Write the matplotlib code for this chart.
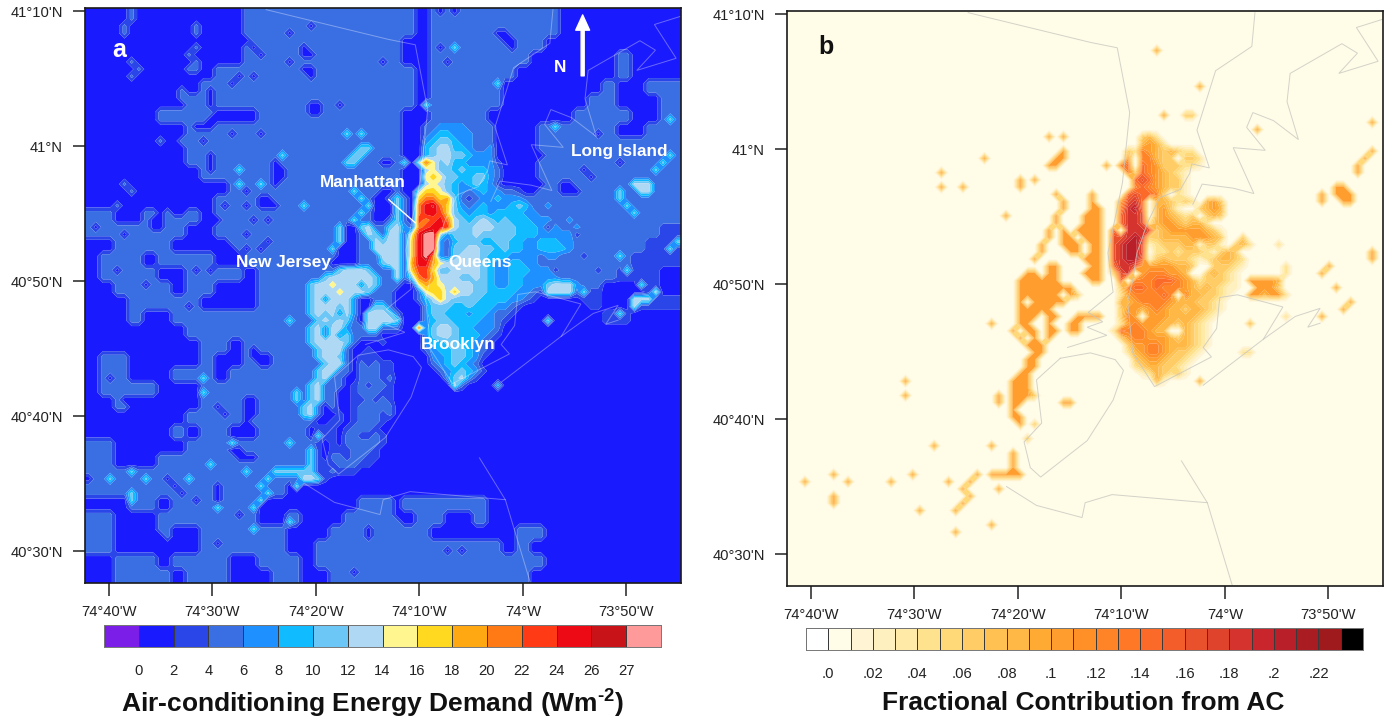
import matplotlib
matplotlib.use('Agg')
import matplotlib.pyplot as plt
import numpy as np
from matplotlib.colors import ListedColormap

plt.rcParams['font.family'] = ['Liberation Sans', 'DejaVu Sans']
plt.rcParams['mathtext.fontset'] = 'custom'
plt.rcParams['mathtext.bf'] = 'Liberation Sans:bold'
plt.rcParams['mathtext.rm'] = 'Liberation Sans:bold'

W, H = 1390, 722
N_COLS, N_ROWS = 83, 80

# classes: 0=0-2 1=2-4 2=4-6 ... c=24-26 d=26-27 e=>27 (panel a)
demand_values = [1, 3, 5, 7, 9, 11, 13, 15, 17, 19, 21, 23, 25, 26.5, 28]
demand_levels = [-1, 0, 2, 4, 6, 8, 10, 12, 14, 16, 18, 20, 22, 24, 26, 27, 30]
demand_labels = ['0', '2', '4', '6', '8', '10', '12', '14', '16', '18', '20', '22', '24', '26', '27']
demand_colors = ['#7b1fe8', '#1a1aff', '#2a45e8', '#3a6fe4', '#1e90ff', '#10bcff', '#6cc6f6', '#aed8f4',
                 '#fff68f', '#ffd820', '#ffa812', '#ff7a14', '#ff3a14', '#ee0a14', '#c81418', '#ff9a9a']

# classes for panel b, one step = .02
fraction_values = [.005, .025, .045, .065, .085, .105, .125, .145, .165, .185, .205]
fraction_levels = [-1] + [i / 100 for i in range(24)] + [1]
fraction_labels = ['.0', '.02', '.04', '.06', '.08', '.1', '.12', '.14', '.16', '.18', '.2', '.22']
fraction_colors = ['#ffffff', '#fffce8', '#fff5d5', '#fff0c0', '#ffeaa8', '#ffe28e', '#ffd878', '#ffcc66',
                   '#ffc152', '#ffb845', '#ffaa32', '#ff9e2e', '#ff9028', '#ff8428', '#ff7826', '#fb6a28',
                   '#f25d2a', '#e9502c', '#df432b', '#d5332d', '#c8262c', '#b81f28', '#a81c22', '#9e1a1c', '#000000']

# coarse background of panel a, one char = 2x2 grid cells
demand_base = [
    '00000000000 222222222222 0 222222222 000000000',
    '00000000000 222222222222 0 222222222 000000000',
    '00000000000 22222222222 00 22222222 0000000000',
    '00000000000 22222222222 00 2222222 000000 2 0000',
    '000000000 22222222222222 0 222222 0000000 2 0000',
    '00000000 222222222222222 0 22222 0000000 2 00 222',
    '0000000 2222222222222222 0 22222 000000 22 00 0 22',
    '00000 22 22 000 2222222222 00 2222 000000 2222 00 22',
    '0000000 222222222222222 00 2222 0000 22222 00 222',
    '0000000 222222222222222 2 0 2222 000 22222222222',
    '0000000 222222222222222 2 0 2222 000 22222222222',
    '00000000 222222222222222 0 22222 000 2222222222',
    '0000000000 2222222222222 0 22222 000 2222222222',
    '000000000 22222222222222 0 222222222222222222',
    '22 00 2222 0 22222222222222 0 222222222222222222',
    '2222222 00 22222222222222 22222222222222222 11',
    '00 2222 0000 22222222222222222222222222222 111',
    '0 222 0 2222 00 222222222222222222222222222 1111',
    '0 2222 00 222 2 0 2222222222222222222222222 111 00',
    '00 2222 0 22 000 222222222222222222222222 000 1 00',
    '000 22222 0000 222222222222222222222222 00 1111',
    '000 2 00 222222222222222222222222222222 11 0000',
    '0000000 22222222222222222222222222222 000000',
    '00000000 22 0 2222222222222222222222222 000000',
    '0 22 00000 2 00 2 0 22222222222222222222 000000',
    '0 22 000 222 0 22222222222222222222222222 000000',
    '0 2222 000 2222222222222222222222222222 000000',
    '00 2 00000 222 0 222222222222222222222222 000000',
    '0000000 22222222222222222222222222222 000000',
    '000000 2 0 22 00 222222222222222222222222 000000',
    '22 00000 22222222222222222222222222222 000000',
    '22 000 2222222222222222222222222222222 000000',
    '2222222222222222 00000000000000000000000000',
    '22222222222222 0000000000000000000000000000',
    '000 22 0 222222 000 0000 222222222 0000000000000000',
    '22 000 2 222222 00 2 000 2222 0 22 00 2 00000000000000',
    '22 000 2 00 222222 000 2 222222 00 0000 22 00000000000',
    '22 000000 222222 00 2 222222222222 0 2 000000000000',
    '00 222 0 2222 00 222 0 2222222222222222 0000000000',
    '00 2222 0 222 000 22 00 22222222222222 0000000000',
]

# fine patch of panel a around the city, one char = 1 grid cell
PATCH_COL, PATCH_ROW, PATCH_COLS, PATCH_ROWS = 30, 16, 42, 50
demand_patch = [
    '22222222222222 000 22333322220 00000 222222222',
    '22222252522222 000 23443332220 00000 222222222',
    '22222222222222 000 34554332220 00000 222222222',
    '22222222552222 000 45664432230 00000 222222222',
    '22222225522222 000 45665543330 00000 222222222',
    '22222255222002 50 6a75644 33331 00000 222222222',
    '22222222222222 000 67554544432 00000 222222222',
    '22222222222222 000 78755445532 00000 222222222',
    '22222222222222 000 67654345431 000000 22222222',
    '22222225222002 00688754323433 221002 22222222',
    '22222222520025 208aa895212334 333222 22222222',
    '22222222250005 20acda85323433 345422 32222222',
    '22222222520005 20accb85434434 444332 22222222',
    '22222225220025 20babca6545654 544433 32232222',
    '22222500562256 32abccb6556665 554443 33223222',
    '22222500265266 27cee635556555 554443 33332222',
    '22222500226566 28cee324555445 544334 44332222',
    '22225000226666 28cee325566554 544334 44432222',
    '22222000222666 28cea325666544 433332 33222222',
    '22220000222566 29cc9766666543 344332 22222222',
    '22222566652226 28bb8556666543 344433 32222222',
    '22256666665226 25ab9666556543 344333 33222222',
    '25667666365222 00798766665543 344333 56663222',
    '25666766652220 00278868665544 443321 66662211',
    '25636663002220 00246865555444 433210 00000111',
    '25666563005520 00035554454443 321000 00000011',
    '25656363066652 00035544434432 210000 00000000',
    '22565652066665 00034554444332 100000 00000000',
    '25636632266222 00a35665443332 000000 00000000',
    '25636352222000 00035665444321 000000 00000000',
    '25666652000100 00034455443210 000000 00000000',
    '22566620010000 00023445543210',
    '22566520111000 00003345543100',
    '22256620212110 00002345432000',
    '22566220222110 00000234543100',
    '22562200222120 00000035631000',
    '25622201212210 00000006200004',
    '25622001222110',
    '25622001121210',
    '56202001222220',
    '56200101222120',
    '22001101222100',
    '20111012221000',
    '20511022112100',
    '22101022222100',
    '25101112221000',
    '25102212211000',
    '25111222110000',
    '25112111000000',
    '66510000000000',
]

# single grid cells (col, row) that stand out of panel a
demand_bright = [(21, 22), (21, 24), (24, 24), (27, 20), (30, 27), (28, 43), (16, 51), (16, 53), (28, 60), (20, 60),
                 (17, 63), (22, 64), (6, 64), (3, 65), (8, 65), (14, 65), (6, 67), (6, 68), (18, 69), (23, 72),
                 (28, 71), (29, 66), (24, 66), (25, 65), (26, 64), (23, 69), (24, 68), (25, 67), (29, 53), (29, 54),
                 (65, 16), (51, 5), (57, 10), (47, 13), (81, 15), (81, 20), (80, 21), (79, 22), (74, 25), (74, 26),
                 (75, 27), (76, 28), (74, 34), (75, 36), (77, 38), (74, 42), (82, 32), (81, 33), (64, 43), (69, 39),
                 (27, 64), (28, 64), (29, 64), (30, 64), (31, 64)]
demand_light = [(76, 24), (77, 24), (78, 24), (77, 25), (78, 25), (76, 40), (77, 40), (78, 40), (79, 39), (76, 41)]
demand_dark = [(22, 4), (23, 5), (24, 6), (28, 3), (31, 2), (28, 7), (21, 9), (23, 9), (20, 10), (31, 9), (35, 13),
               (20, 17), (24, 17), (16, 18), (17, 15), (17, 16), (22, 25), (19, 27), (18, 29), (22, 27), (23, 29),
               (25, 29), (22, 31), (25, 32), (24, 33), (22, 33), (20, 33), (15, 36), (17, 36), (1, 30), (5, 31),
               (7, 29), (4, 36), (8, 38), (30, 5), (31, 6), (30, 6), (30, 8), (31, 8), (31, 13), (32, 14), (31, 14),
               (32, 13), (17, 11), (17, 12), (17, 13), (17, 20), (17, 21), (17, 22), (26, 21), (27, 22), (26, 22),
               (26, 23), (26, 24), (27, 23), (24, 26), (25, 26), (25, 27), (26, 27), (24, 27), (15, 16), (16, 16),
               (10, 26), (10, 27), (10, 28), (12, 26), (12, 27), (12, 28), (13, 27), (13, 28), (9, 29), (9, 30),
               (10, 29), (10, 30), (49, 5), (50, 7), (51, 0), (49, 0), (41, 7), (57, 3), (58, 3), (58, 4), (59, 4),
               (59, 5), (71, 17), (63, 20), (69, 22), (70, 23), (74, 21), (66, 24), (67, 24), (67, 25), (68, 25),
               (66, 25), (14, 41), (5, 45), (3, 51), (5, 54), (13, 52), (20, 49), (23, 47), (24, 48), (23, 48),
               (18, 55), (19, 56), (22, 55), (22, 56), (23, 55), (23, 56), (22, 57), (21, 59), (21, 58), (22, 58),
               (10, 60), (0, 65), (11, 65), (12, 66), (13, 67), (15, 68), (18, 66), (18, 67), (18, 68), (21, 70),
               (10, 73), (18, 74), (37, 78), (39, 72), (39, 73), (43, 68), (43, 69), (43, 70), (50, 75), (52, 75),
               (20, 61), (21, 61), (21, 62), (22, 62), (23, 62)]
demand_mid = [(69, 34), (71, 36), (68, 31), (64, 30), (65, 36)]
demand_faint = [(5, 2), (5, 3), (6, 0), (6, 1), (15, 2), (15, 3), (14, 8), (15, 8), (13, 11), (13, 12), (15, 5),
                (14, 6), (15, 7), (6, 7), (7, 8), (6, 9), (4, 27), (6, 25), (5, 24), (10, 18), (13, 18)]

# same patch window for panel b, 0=background, 5=.10-.11 and so on
fraction_patch = [
    '',
    '000000505 0000000000 342',
    '0000000000000000000 4542',
    '00000000 5 00000000 32654343 22',
    '0000000 55 00000000 506643 30 332',
    '000000 55 000000 50670765333221',
    '00000000000000000 637654321',
    '00505 0000000000000 78754331',
    '005 000000000000000 67654331',
    '0000000 5 0000 5 0000 787763021',
    '00000000 5 000 5 000 5 89704 432320 453',
    '00000000 5 000 55 00 69a70 45310 03 454',
    '5 000000 5 000 555 00 7998 0 45432 30 343',
    '0000000 5 000 555 00 7998 2 45543 44 20',
    '000000 5 0 5 0 5555 0 70 9998 345555 5431',
    '000000 5 0 55 0 555 0 889a933444455543 00 3',
    '000005005550550 89aa8123334413310342 000 2',
    '000005000550550 89aa80223233321 343',
    '000050000005550 89aa713433321234432',
    '000000550000550 7998555554430033321 00000 2',
    '000550550005550 389056665540034321 000000 2',
    '005555550000550 070666777654233321055554',
    '005555555500000 036776766654343211005553',
    '005555550530000 0256666760644332100554552',
    '005055555000000 0445666654443321',
    '005555500000000 0355456544344321',
    '005550550055550 036505554444321 000000000 2',
    '005500500550000 02565554434321 00000 4',
    '050550550550000 27666544004321',
    '005050500000000 03566555434321',
    '000555000000000 00355665444321',
    '000055000000000 00245665433210 0000 22',
    '000550000000000 000345543321',
    '000550000000000 00023443321',
    '005500000000000 00001243231',
    '005500000000000 000000410000 5',
    '055500000000000',
    '055500000000000',
    '055000000000000',
]

fraction_orange = [(2, 65), (6, 64), (8, 65), (6, 67), (6, 68), (14, 65), (17, 64), (20, 60), (22, 65), (24, 66),
                   (25, 65), (26, 64), (23, 69), (24, 68), (25, 67), (18, 69), (23, 72), (28, 71), (28, 60), (29, 66),
                   (28, 64), (29, 64), (30, 64), (31, 64), (32, 64), (31, 63), (31, 61), (31, 62), (29, 53), (29, 54),
                   (16, 51), (16, 53), (31, 51), (31, 52), (31, 53), (31, 54), (38, 54), (39, 54), (31, 56), (32, 56),
                   (32, 57), (31, 55), (51, 5), (57, 10), (52, 14), (65, 16), (81, 15), (81, 19), (80, 20), (79, 21),
                   (79, 22), (76, 24), (77, 24), (76, 25), (77, 25), (78, 25), (77, 26), (78, 26), (74, 25), (74, 26),
                   (81, 33), (81, 34), (75, 35), (74, 36), (76, 38), (78, 40), (77, 41), (74, 42), (27, 20), (21, 22),
                   (21, 24), (24, 24), (28, 43)]
fraction_pale = [(34, 53), (34, 57), (33, 59), (55, 14), (56, 14)]

# coast lines, arcminutes west of 74W and north of 40d30N
coast_west = [[24.8, 13.0, 10.4, 9.2, 9.9, 11.3, 10.8, 13.2, 11.8, 13.3, 11.4, 15.2],
              [15.9, 13.0, 10.6, 9.8, 10.8, 13.3, 17.8, 18.8, 19.4, 17.7, 18.2, 15.9],
              [-2.9, -2.6, 0.9, 2.7, 1.5, 3.2, 3.4, 4.3, 6.3, 7.5, 8.5, 8.9, 9.4, 8.9, 6.8, 1.3, 2.1, 0.8, 0.5,
               -1.2, -5.6, -3.7],
              [2.1, -3.7, -6.8, -9.2, -8.0, -9.2],
              [3.1, 2.2, -0.8, -2.8, -0.8, -3.9, -2.1, -2.7, -4.7, -7.1, -6.0, -6.3, -11.3, -12.8, -11.0, -14.8,
               -12.7, -15.2],
              [21.1, 18.2, 13.8, 13.5, 10.9, 1.7],
              [4.2, 1.7, -0.7]]
coast_north = [[40.1, 37.9, 37.5, 32.7, 27.5, 22.3, 19.4, 17.9, 17.2, 16.8, 16.2, 15.3],
               [14.5, 14.9, 14.4, 13.6, 11.4, 8.4, 5.7, 6.4, 8.3, 9.7, 12.9, 14.5],
               [40.1, 37.6, 35.8, 31.4, 28.6, 28.9, 28.2, 27.0, 26.4, 24.5, 22.3, 20.3, 18.7, 14.9, 12.4, 14.6,
                15.3, 16.7, 19.0, 19.2, 18.3, 15.9],
               [12.5, 15.9, 17.6, 18.2, 16.8, 17.1],
               [25.9, 27.4, 27.1, 26.7, 30.1, 29.9, 31.6, 32.7, 32.1, 30.7, 33.5, 35.6, 37.8, 37.1, 35.6, 36.5,
                39.0, 39.6],
               [5.0, 3.6, 2.7, 3.8, 4.4, 3.8],
               [6.9, 3.8, -2.3]]

lon_ticks = [-74 - 40 / 60, -74 - 30 / 60, -74 - 20 / 60, -74 - 10 / 60, -74, -73 - 50 / 60]
lon_labels = ["74°40'W", "74°30'W", "74°20'W", "74°10'W", "74°W", "73°50'W"]
lat_ticks = [40.5, 40 + 40 / 60, 40 + 50 / 60, 41, 41 + 10 / 60]
lat_labels = ["40°30'N", "40°40'N", "40°50'N", "41°N", "41°10'N"]

LON_MIN, LON_MAX = -74.705, -73.7455
LAT_MIN, LAT_MAX = 40.4605, 41.1704


def add_axes_px(left, top, right, bottom):
    return plt.gcf().add_axes([left / W, 1 - bottom / H, (right - left) / W, (bottom - top) / H])


def clean(row):
    return row.replace(' ', '')


def put_patch(grid, rows):
    for j, row in enumerate(rows):
        row = clean(row)[:PATCH_COLS].ljust(PATCH_COLS, '0')
        grid[PATCH_ROW + j, PATCH_COL:PATCH_COL + PATCH_COLS] = [int(c, 16) for c in row]


def put_cells(grid, cells, code):
    for col, row in cells:
        grid[row, col] = code


def draw_map(ax, grid, values, levels, colors, coast_color, coast_alpha):
    data = np.take(values, grid.astype(int))
    data = np.pad(data, 1, mode='edge')
    cell_x = (LON_MAX - LON_MIN) / N_COLS
    cell_y = (LAT_MAX - LAT_MIN) / N_ROWS
    lon = LON_MIN + (np.arange(-1, N_COLS + 1) + 0.5) * cell_x
    lat = LAT_MAX - (np.arange(-1, N_ROWS + 1) + 0.5) * cell_y
    ax.contourf(lon, lat, data, levels=levels, colors=colors, antialiased=True)
    for west, north in zip(coast_west, coast_north):
        ax.plot(-74 - np.array(west) / 60, 40.5 + np.array(north) / 60, color=coast_color, alpha=coast_alpha,
                linewidth=0.7, solid_joinstyle='miter')
    ax.set_xlim(LON_MIN, LON_MAX)
    ax.set_ylim(LAT_MIN, LAT_MAX)
    ax.set_xticks(lon_ticks)
    ax.set_xticklabels(lon_labels)
    ax.set_yticks(lat_ticks)
    ax.set_yticklabels(lat_labels)
    ax.tick_params(direction='out', length=9, width=1.1, labelsize=10.6, pad=7, color='#222222', labelcolor='#222222')
    for spine in ax.spines.values():
        spine.set_linewidth(1.2)
        spine.set_color('#1a1a1a')


def draw_bar(cax, colors, labels):
    n = len(colors)
    cax.pcolormesh(np.arange(n + 1), [0, 1], np.arange(n)[None, :], cmap=ListedColormap(colors),
                   edgecolors='#3a3a3a', linewidth=0.5)
    cax.set_yticks([])
    cax.set_xticks(np.arange(1, len(labels) + 1) * (1 if n == 16 else 2) - (0 if n == 16 else 1))
    cax.set_xticklabels(labels)
    cax.tick_params(length=0, labelsize=10.6, pad=12, labelcolor='#222222')
    for spine in cax.spines.values():
        spine.set_linewidth(0.7)
        spine.set_color('#777777')


def place_label(ax, x, y, text, size=12.4):
    ax.text(x, y, text, transform=ax.transAxes, color='white', fontweight='bold', fontsize=size,
            ha='center', va='center')


fig = plt.figure(figsize=(W / 100, H / 100), dpi=100)

# panel a
grid_a = np.repeat(np.repeat(np.array([[int(c, 16) for c in clean(r)[:42].ljust(42, '0')] for r in demand_base]),
                             2, axis=0), 2, axis=1)[:N_ROWS, :N_COLS]
put_patch(grid_a, demand_patch)
put_cells(grid_a, demand_faint, 2)
put_cells(grid_a, demand_dark, 0)
put_cells(grid_a, demand_mid, 1)
put_cells(grid_a, demand_bright, 5)
put_cells(grid_a, demand_light, 6)

ax_a = add_axes_px(85, 8, 681, 583)
draw_map(ax_a, grid_a, demand_values, demand_levels, demand_colors, 'white', 0.35)
place_label(ax_a, 0.057, 0.927, 'a', 18)
place_label(ax_a, 0.466, 0.697, 'Manhattan')
place_label(ax_a, 0.333, 0.557, 'New Jersey')
place_label(ax_a, 0.662, 0.557, 'Queens')
place_label(ax_a, 0.626, 0.414, 'Brooklyn')
place_label(ax_a, 0.896, 0.751, 'Long Island')
place_label(ax_a, 0.797, 0.897, 'N')
ax_a.annotate('', xy=(0.558, 0.623), xytext=(0.506, 0.67), xycoords='axes fraction', textcoords='axes fraction',
              arrowprops=dict(arrowstyle='-', color='white', linewidth=1))
ax_a.annotate('', xy=(0.835, 0.988), xytext=(0.835, 0.882), xycoords='axes fraction', textcoords='axes fraction',
              arrowprops=dict(facecolor='white', edgecolor='white', width=2.2, headwidth=10, headlength=11))

cax_a = add_axes_px(104, 625, 661, 647)
draw_bar(cax_a, demand_colors, demand_labels)
fig.text(373 / W, 1 - 703 / H, r'Air-conditioning Energy Demand (Wm$^{\text{-2}}$)', fontsize=19,
         fontweight='bold', ha='center', va='center', color='#111111')

# panel b
grid_b = np.zeros((N_ROWS, N_COLS))
put_patch(grid_b, fraction_patch)
put_cells(grid_b, fraction_orange, 5)
put_cells(grid_b, fraction_pale, 3)

ax_b = add_axes_px(787, 11, 1383, 586)
draw_map(ax_b, grid_b, fraction_values, fraction_levels, fraction_colors, '#c8c8c0', 0.8)
place_label(ax_b, 0.065, 0.937, 'b', 18)
ax_b.texts[0].set_color('#111111')

cax_b = add_axes_px(806, 628, 1363, 650)
draw_bar(cax_b, fraction_colors, fraction_labels)
fig.text(1083 / W, 1 - 703 / H, 'Fractional Contribution from AC', fontsize=19, fontweight='bold',
         ha='center', va='center', color='#111111')

fig.savefig('out.png', dpi=100)
